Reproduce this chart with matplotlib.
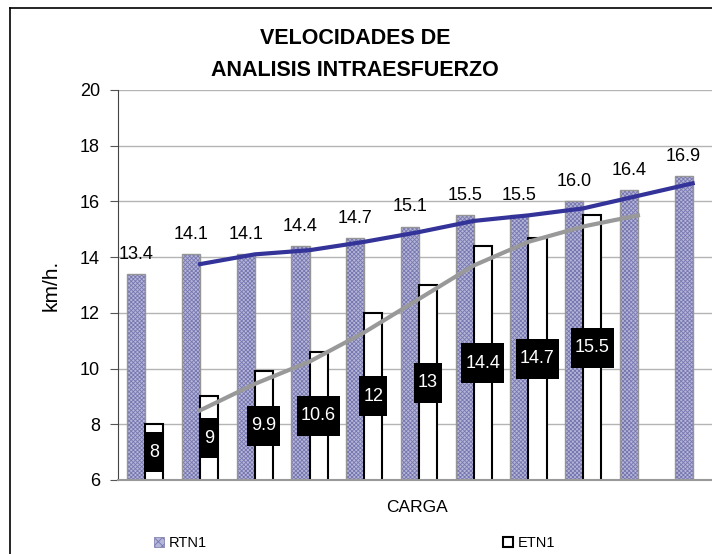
import matplotlib
matplotlib.use("Agg")
import matplotlib.pyplot as plt
from matplotlib.patches import Rectangle, Patch
import numpy as np

plt.rcParams['font.family'] = ['Liberation Sans', 'DejaVu Sans']
plt.rcParams['hatch.linewidth'] = 0.6

# data
cargas = list(range(11))
rtn1 = [13.4, 14.1, 14.1, 14.4, 14.7, 15.1, 15.5, 15.5, 16.0, 16.4, 16.9]
etn1 = [8, 9, 9.9, 10.6, 12, 13, 14.4, 14.7, 15.5]
# moving-average trend lines (2 periods)
rtn1_trend = [13.75, 14.1, 14.25, 14.55, 14.9, 15.3, 15.5, 15.75, 16.2, 16.65]
etn1_trend = [8.5, 9.45, 10.25, 11.3, 12.5, 13.7, 14.55, 15.1, 15.5]

W, H = 712, 554
fig = plt.figure(figsize=(W / 100, H / 100), dpi=100)

# outer chart frame (cropped on the right and bottom)
fig.add_artist(plt.Line2D([10 / W, 10 / W], [0, 1 - 8 / H], color='black', lw=1.2))
fig.add_artist(plt.Line2D([10 / W, 1], [1 - 8 / H, 1 - 8 / H], color='black', lw=1.2))

left, right, top, bottom = 118, 720, 90, 480
ax = fig.add_axes([left / W, 1 - bottom / H, (right - left) / W, (bottom - top) / H])

x = np.arange(len(cargas))
bw = 0.33

ax.bar(x - bw / 2, rtn1, width=bw, bottom=0, color='#b6b6d8', edgecolor='#7676b0',
       hatch='xxxxxxxx', linewidth=0, zorder=2)
ax.bar(x - bw / 2, rtn1, width=bw, fill=False, edgecolor='#959595', linewidth=1, zorder=2)
xe = x[:len(etn1)]
ax.bar(xe + bw / 2, etn1, width=bw, color='white', edgecolor='black', linewidth=1.5, zorder=2)

ax.plot(x[1:], rtn1_trend, color='#333399', lw=3, zorder=3)
ax.plot(x[1:len(etn1_trend) + 1], etn1_trend, color='#999999', lw=3, zorder=3)

# labels on top of RTN1 bars
for xi, v in zip(x, rtn1):
    ax.annotate(f"{v:.1f}", (xi - bw / 2, v), xytext=(0, 8), textcoords='offset points',
                ha='center', va='bottom', fontsize=13, zorder=5)

# labels in the middle of ETN1 bars (white on black boxes)
etn_texts = []
for xi, v in zip(xe, etn1):
    t = ax.text(xi + bw / 2, (6 + v) / 2, f"{v:g}", ha='center', va='center',
                fontsize=13, color='white', zorder=6)
    etn_texts.append(t)

ax.set_ylim(6, 20)
ax.set_xlim(-0.5, 10.5)
ax.set_yticks(np.arange(6, 21, 2))
ax.set_xticks([])
ax.tick_params(axis='y', labelsize=13, length=6, color='#555555', direction='out', pad=7)
ax.yaxis.grid(True, color='#b4b4b4', lw=1)
ax.set_axisbelow(True)
for s in ['top', 'right']:
    ax.spines[s].set_visible(False)
ax.spines['left'].set_color('#444444')
ax.spines['bottom'].set_color('#999999')
ax.spines['bottom'].set_linewidth(1.5)

ax.set_ylabel('km/h.', fontsize=15, labelpad=14)

fig.text(355 / W, 1 - 38 / H, 'VELOCIDADES DE', ha='center', va='center',
         fontsize=15.5, fontweight='bold')
fig.text(355 / W, 1 - 70 / H, 'ANALISIS INTRAESFUERZO', ha='center', va='center',
         fontsize=15.5, fontweight='bold')
fig.text(417 / W, 1 - 507 / H, 'CARGA', ha='center', va='center', fontsize=12.5)

h1 = Patch(facecolor='#b6b6d8', edgecolor='#7676b0', hatch='xxxx', lw=0.5)
h2 = Patch(facecolor='white', edgecolor='black', lw=1.5)
l1 = fig.legend([h1], ['RTN1'], loc='center left', bbox_to_anchor=(154 / W, 1 - 543 / H),
                frameon=False, fontsize=10.5, handlelength=0.7, handleheight=0.7,
                handletextpad=0.3, borderpad=0, borderaxespad=0)
l2 = fig.legend([h2], ['ETN1'], loc='center left', bbox_to_anchor=(503 / W, 1 - 543 / H),
                frameon=False, fontsize=10.5, handlelength=0.7, handleheight=0.7,
                handletextpad=0.3, borderpad=0, borderaxespad=0)

# black boxes behind ETN1 labels
fig.canvas.draw()
renderer = fig.canvas.get_renderer()
inv = ax.transData.inverted()
for t in etn_texts:
    bb = t.get_window_extent(renderer=renderer)
    cx, cy = (bb.x0 + bb.x1) / 2, (bb.y0 + bb.y1) / 2
    w = bb.width + 8
    h = 40
    (dx0, dy0) = inv.transform((cx - w / 2, cy - h / 2))
    (dx1, dy1) = inv.transform((cx + w / 2, cy + h / 2))
    ax.add_patch(Rectangle((dx0, dy0), dx1 - dx0, dy1 - dy0, facecolor='black',
                           edgecolor='none', zorder=5))

fig.savefig('out.png', dpi=100)
